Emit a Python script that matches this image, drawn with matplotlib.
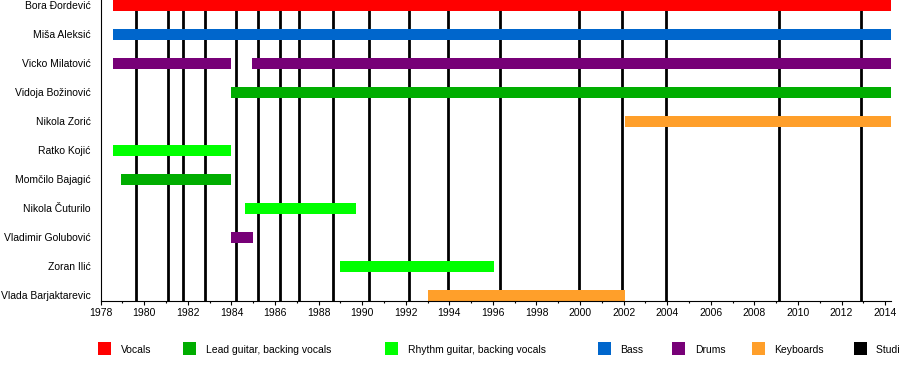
import matplotlib
matplotlib.use("Agg")
import matplotlib.pyplot as plt
from matplotlib.patches import Rectangle
from matplotlib.ticker import MultipleLocator

plt.rcParams['font.family'] = ['Liberation Sans', 'DejaVu Sans']

# band members, top to bottom
members = ["Bora Đordević", "Miša Aleksić", "Vicko Milatović", "Vidoja Božinović",
           "Nikola Zorić", "Ratko Kojić", "Momčilo Bajagić", "Nikola Čuturilo",
           "Vladimir Golubović", "Zoran Ilić", "Vlada Barjaktarevic"]

# roles and their colours
roles = ["Vocals", "Lead guitar, backing vocals", "Rhythm guitar, backing vocals",
         "Bass", "Drums", "Keyboards", "Studio albums"]
role_colors = ["#ff0000", "#00ad00", "#00ff00", "#0066cc", "#770077", "#ff9f2a", "#000000"]

END = 2014.27

# membership periods: member index, start, end, role
bar_member = [0, 1, 2, 2, 3, 4, 5, 6, 7, 8, 9, 10]
bar_start = [1978.56, 1978.56, 1978.56, 1984.94, 1984.0, 2002.05, 1978.56, 1978.93,
             1984.62, 1984.0, 1989.0, 1993.0]
bar_end = [END, END, 1984.0, END, END, END, 1984.0, 1984.0, 1989.72, 1985.0, 1996.03, 2002.05]
bar_role = ["Vocals", "Bass", "Drums", "Drums", "Lead guitar, backing vocals", "Keyboards",
            "Rhythm guitar, backing vocals", "Lead guitar, backing vocals",
            "Rhythm guitar, backing vocals", "Drums", "Rhythm guitar, backing vocals",
            "Keyboards"]

# studio album releases
albums = [1979.63, 1981.10, 1981.79, 1982.80, 1984.20, 1985.23, 1986.24, 1987.11,
          1988.67, 1990.33, 1992.16, 1993.95, 1996.34, 1999.96, 2001.94, 2003.94,
          2009.14, 2012.89]

fig = plt.figure(figsize=(9, 3.7), dpi=100)
ax = fig.add_axes([100.7 / 900, 1 - 300.7 / 370, 790.3 / 900, 300.7 / 370])

ylo, yhi = 10.186, -0.183
ax.vlines(albums, yhi, ylo, color="black", linewidth=2.0, zorder=1)

color_of = dict(zip(roles, role_colors))
for m, s, e, r in zip(bar_member, bar_start, bar_end, bar_role):
    ax.barh(m, e - s, left=s, height=0.368, color=color_of[r], linewidth=0, zorder=2)

ax.set_xlim(1978, END)
ax.set_ylim(ylo, yhi)
ax.set_yticks(range(len(members)))
ax.set_yticklabels(members, fontsize=7.5)
ax.tick_params(axis="y", length=0, pad=7.2)

ax.xaxis.set_major_locator(MultipleLocator(2))
ax.xaxis.set_minor_locator(MultipleLocator(1))
ax.tick_params(axis="x", which="major", length=3, width=0.8, labelsize=7.5, pad=2.5)
ax.tick_params(axis="x", which="minor", length=1.5, width=0.8)

for side in ["top", "right"]:
    ax.spines[side].set_visible(False)
for side in ["left", "bottom"]:
    ax.spines[side].set_linewidth(0.8)

# legend row along the bottom
legend_x = [98, 183.3, 385.3, 598, 672.3, 752, 854]
for lx, name, c in zip(legend_x, roles, role_colors):
    fig.patches.append(Rectangle((lx / 900, 1 - 354.7 / 370), 12.5 / 900, 12.5 / 370,
                                 transform=fig.transFigure, color=c, linewidth=0))
    fig.text((lx + 22.5) / 900, 1 - 350 / 370, name, fontsize=7.5, va="center", ha="left")

fig.savefig("out.png", dpi=100)
